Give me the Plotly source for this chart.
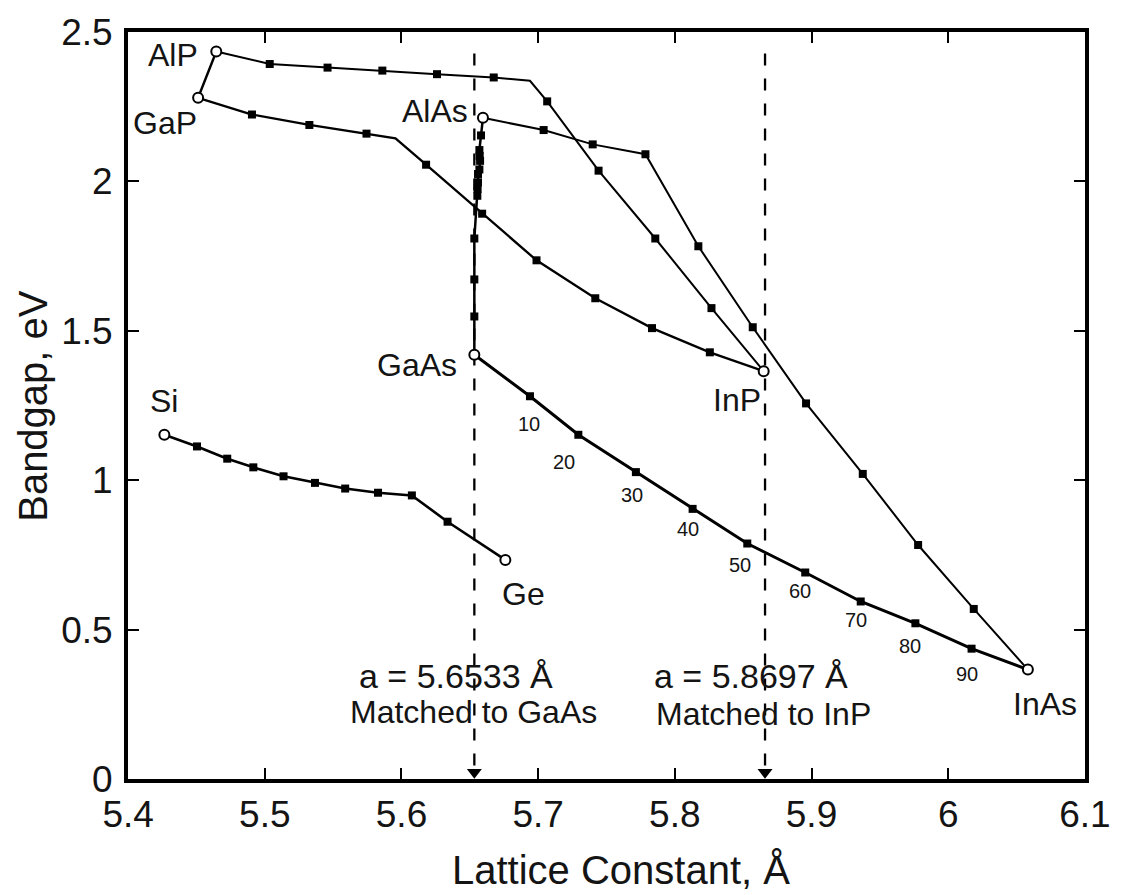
import plotly.graph_objects as go

# ---------------- data ----------------
# binary compounds / elements (open circles)
compounds = ["AlP", "GaP", "AlAs", "GaAs", "InP", "InAs", "Si", "Ge"]
comp_a = [5.4645, 5.4512, 5.6596, 5.6533, 5.865, 6.0583, 5.4265, 5.676]
comp_eg = [2.435, 2.28, 2.213, 1.42, 1.365, 0.366, 1.152, 0.733]

# label positions for compounds
label_a = [5.4331, 5.4273, 5.6246, 5.6117, 5.8452, 6.0706, 5.426, 5.689]
label_eg = [2.424, 2.197, 2.235, 1.387, 1.269, 0.252, 1.264, 0.619]

# ternary alloy curves (interior points; flag 0 = bend without marker)
alp_gap_a, alp_gap_eg, alp_gap_f = [], [], []

alinp_a = [5.5036, 5.5459, 5.586, 5.626, 5.6675, 5.694, 5.7066, 5.7442, 5.7857, 5.8268]
alinp_eg = [2.393, 2.381, 2.371, 2.359, 2.348, 2.337, 2.268, 2.036, 1.809, 1.576]
alinp_f = [1, 1, 1, 1, 1, 0, 1, 1, 1, 1]

gainp_a = [5.4906, 5.5326, 5.5744, 5.5956, 5.618, 5.659, 5.6988, 5.7418, 5.7833, 5.8256]
gainp_eg = [2.224, 2.189, 2.160, 2.144, 2.056, 1.892, 1.736, 1.609, 1.509, 1.428]
gainp_f = [1, 1, 1, 0, 1, 1, 1, 1, 1, 1]

algaas_a = [5.6582, 5.657, 5.6572, 5.6575, 5.657, 5.656, 5.656, 5.6557, 5.6555, 5.6533, 5.6533, 5.6533]
algaas_eg = [2.154, 2.105, 2.085, 2.069, 2.04, 2.025, 1.997, 1.975, 1.952, 1.809, 1.672, 1.548]
algaas_f = [1] * 12

alinas_a = [5.704, 5.7399, 5.7785, 5.8172, 5.857, 5.896, 5.9375, 5.978, 6.0187]
alinas_eg = [2.172, 2.124, 2.091, 1.783, 1.512, 1.257, 1.021, 0.783, 0.569]
alinas_f = [1] * 9

gainas_a = [5.694, 5.7294, 5.7715, 5.813, 5.853, 5.8954, 5.936, 5.976, 6.0171]
gainas_eg = [1.281, 1.152, 1.027, 0.904, 0.788, 0.691, 0.594, 0.521, 0.436]
gainas_f = [1] * 9

sige_a = [5.4504, 5.4725, 5.4916, 5.5137, 5.5367, 5.5588, 5.5828, 5.6076, 5.6337]
sige_eg = [1.113, 1.072, 1.043, 1.013, 0.991, 0.972, 0.958, 0.949, 0.861]
sige_f = [1] * 9

# composition labels along GaInAs
pct_labels = ["10", "20", "30", "40", "50", "60", "70", "80", "90"]
pct_a = [5.693, 5.7188, 5.7688, 5.8097, 5.848, 5.8915, 5.9323, 5.9718, 6.0139]
pct_eg = [1.187, 1.06, 0.949, 0.836, 0.716, 0.628, 0.532, 0.444, 0.352]

# lattice-matched lines
match_a = [5.6533, 5.866]
match_line1 = ["a = 5.6533 Å", "a = 5.8697 Å"]
match_line2 = ["Matched to GaAs", "Matched to InP"]
match_l1_a = [5.640, 5.8559]
match_l1_eg = [0.343, 0.343]
match_l2_a = [5.653, 5.8646]
match_l2_eg = [0.224, 0.219]

x_ticks = [5.4, 5.5, 5.6, 5.7, 5.8, 5.9, 6.0, 6.1]
y_ticks = [0, 0.5, 1, 1.5, 2, 2.5]

# ---------------- styles ----------------
FONT = "Liberation Sans, Arial, Helvetica, sans-serif"
TXT = "#141414"
DASH_Y0, DASH_Y1 = 0.045, 2.465
TRI_Y = 0.022

curves = [
    ("AlP", "GaP", alp_gap_a, alp_gap_eg, alp_gap_f, 2.4),
    ("AlP", "InP", alinp_a, alinp_eg, alinp_f, 2.0),
    ("GaP", "InP", gainp_a, gainp_eg, gainp_f, 2.3),
    ("AlAs", "GaAs", algaas_a, algaas_eg, algaas_f, 2.5),
    ("AlAs", "InAs", alinas_a, alinas_eg, alinas_f, 2.0),
    ("GaAs", "InAs", gainas_a, gainas_eg, gainas_f, 3.0),
    ("Si", "Ge", sige_a, sige_eg, sige_f, 2.6),
]

fig = go.Figure()

# dashed lattice-matched lines
for a in match_a:
    fig.add_trace(go.Scatter(x=[a, a], y=[DASH_Y0, DASH_Y1], mode="lines",
                             line=dict(color="black", width=2.3, dash="12px,13px"),
                             hoverinfo="skip", showlegend=False))

idx = {c: i for i, c in enumerate(compounds)}
for start, end, xa, ya, fl, w in curves:
    i0, i1 = idx[start], idx[end]
    xs = [comp_a[i0]] + xa + [comp_a[i1]]
    ys = [comp_eg[i0]] + ya + [comp_eg[i1]]
    fig.add_trace(go.Scatter(x=xs, y=ys, mode="lines",
                             line=dict(color="black", width=w),
                             showlegend=False, hoverinfo="skip"))
    mx = [x for x, f in zip(xa, fl) if f]
    my = [y for y, f in zip(ya, fl) if f]
    if mx:
        fig.add_trace(go.Scatter(x=mx, y=my, mode="markers",
                                 marker=dict(symbol="square", size=8, color="black"),
                                 showlegend=False))

# compounds (open circles)
fig.add_trace(go.Scatter(x=comp_a, y=comp_eg, mode="markers",
                         marker=dict(symbol="circle", size=10, color="white",
                                     line=dict(color="black", width=2)),
                         text=compounds, showlegend=False))

# triangles at bottom axis
fig.add_trace(go.Scatter(x=match_a, y=[TRI_Y] * len(match_a), mode="markers",
                         marker=dict(symbol="triangle-down", size=13, color="black"),
                         cliponaxis=False, showlegend=False))

annotations = []
for t, x, y in zip(compounds, label_a, label_eg):
    annotations.append(dict(x=x, y=y, text=t, showarrow=False, xanchor="center",
                            yanchor="middle", font=dict(family=FONT, size=32, color=TXT)))
for t, x, y in zip(pct_labels, pct_a, pct_eg):
    annotations.append(dict(x=x, y=y, text=t, showarrow=False, xanchor="center",
                            yanchor="middle", font=dict(family=FONT, size=20, color=TXT)))
for t, x, y in zip(match_line1, match_l1_a, match_l1_eg):
    annotations.append(dict(x=x, y=y, text=t, showarrow=False, xanchor="center",
                            yanchor="middle", font=dict(family=FONT, size=34, color=TXT)))
for t, x, y in zip(match_line2, match_l2_a, match_l2_eg):
    annotations.append(dict(x=x, y=y, text=t, showarrow=False, xanchor="center",
                            yanchor="middle", font=dict(family=FONT, size=32, color=TXT)))

# axis titles
annotations.append(dict(xref="paper", yref="paper", x=0.515, y=-0.122,
                        text="Lattice Constant, Å", showarrow=False,
                        xanchor="center", yanchor="middle",
                        font=dict(family=FONT, size=40, color=TXT)))
annotations.append(dict(xref="paper", yref="paper", x=-0.1, y=0.5,
                        text="Bandgap, eV", showarrow=False, textangle=-90,
                        xanchor="center", yanchor="middle",
                        font=dict(family=FONT, size=40, color=TXT)))

axis_common = dict(showline=True, linecolor="black", linewidth=4, mirror="ticks",
                   ticks="inside", ticklen=11, tickwidth=2, tickcolor="black",
                   showgrid=False, zeroline=False,
                   tickfont=dict(family=FONT, size=37, color=TXT))

fig.update_layout(
    width=1123, height=895,
    margin=dict(l=128, r=28, t=27, b=116),
    plot_bgcolor="white", paper_bgcolor="white",
    xaxis=dict(range=[5.3999, 6.1001], tickvals=x_ticks,
               ticktext=[f"{v:g}" for v in x_ticks], ticklabelstandoff=0, **axis_common),
    yaxis=dict(range=[-0.0002, 2.5002], tickvals=y_ticks,
               ticktext=[f"{v:g}" for v in y_ticks], ticklabelstandoff=4, **axis_common),
    annotations=annotations,
    showlegend=False,
)

fig.write_html("out.html", config={"displayModeBar": False},
               post_script="document.body.style.margin='0px';document.body.style.padding='0px';")
